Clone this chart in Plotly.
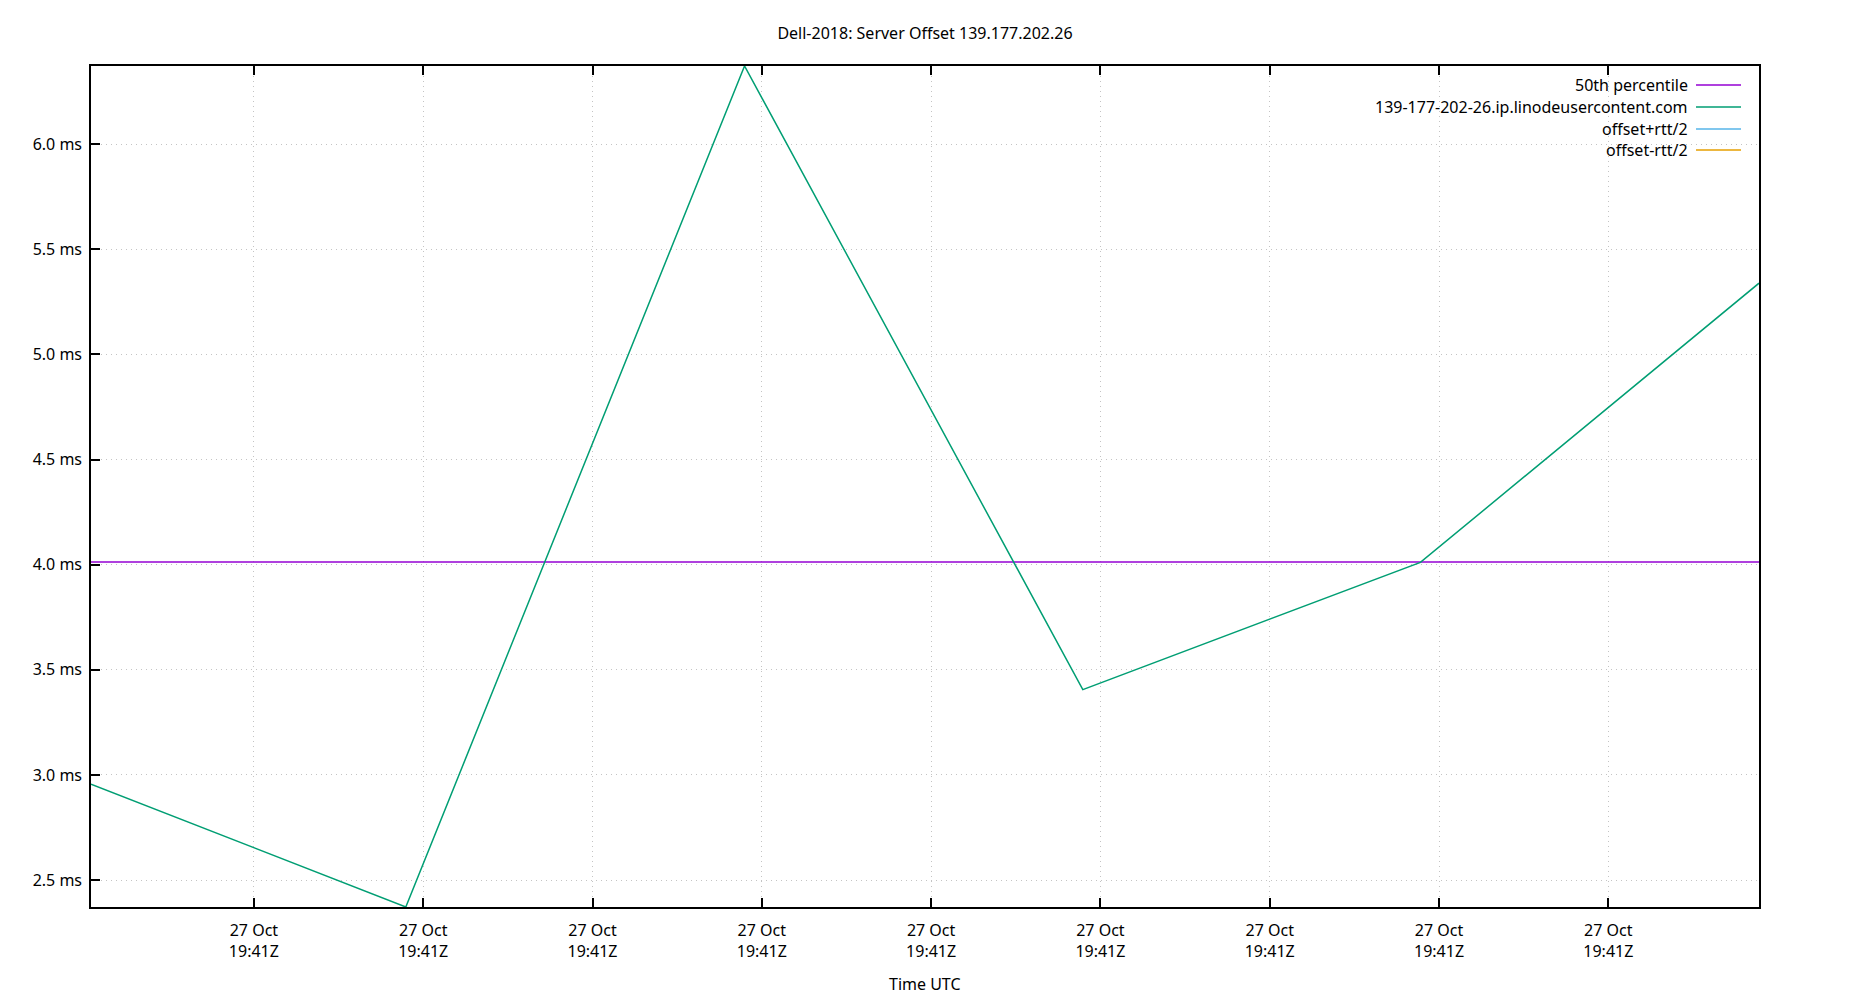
import plotly.graph_objects as go

# ---- data ----
times = [
    "2018-10-27 19:41:00.189",
    "2018-10-27 19:41:09.486",
    "2018-10-27 19:41:19.490",
    "2018-10-27 19:41:29.480",
    "2018-10-27 19:41:39.450",
    "2018-10-27 19:41:49.450",
]
offset_ms = [2.956, 2.372, 6.372, 3.406, 4.011, 5.339]
percentile_50 = 4.013

x_tickvals = [
    "2018-10-27 19:41:05", "2018-10-27 19:41:10", "2018-10-27 19:41:15",
    "2018-10-27 19:41:20", "2018-10-27 19:41:25", "2018-10-27 19:41:30",
    "2018-10-27 19:41:35", "2018-10-27 19:41:40", "2018-10-27 19:41:45",
]
x_ticktext = ["27 Oct<br>19:41Z"] * len(x_tickvals)
y_tickvals = [2.5, 3.0, 3.5, 4.0, 4.5, 5.0, 5.5, 6.0]

legend_names = ["50th percentile", "139-177-202-26.ip.linodeusercontent.com",
                "offset+rtt/2", "offset-rtt/2"]
legend_colors = ["#9400d3", "#009e73", "#56b4e9", "#e69f00"]

title_text = "Dell-2018: Server Offset 139.177.202.26"
x_title = "Time UTC"

FONT = "Noto Sans"
OFF = 8  # page body margin
W, H = 1850, 1000
L, R, T, B = 91 - OFF, 1759 - OFF, 66 - OFF, 907 - OFF

fig = go.Figure()

fig.add_trace(go.Scatter(
    x=[times[0], times[-1]], y=[percentile_50, percentile_50],
    mode="lines", line=dict(color=legend_colors[0], width=1.5),
    name=legend_names[0], showlegend=False, hoverinfo="skip"))
fig.add_trace(go.Scatter(
    x=times, y=offset_ms, mode="lines",
    line=dict(color=legend_colors[1], width=1.5),
    name=legend_names[1], showlegend=False))
fig.add_trace(go.Scatter(x=[None], y=[None], mode="lines",
                         line=dict(color=legend_colors[2], width=1.5),
                         name=legend_names[2], showlegend=False))
fig.add_trace(go.Scatter(x=[None], y=[None], mode="lines",
                         line=dict(color=legend_colors[3], width=1.5),
                         name=legend_names[3], showlegend=False))

def fx(p):  # screen px -> paper x
    return (p - OFF - L) / (R - L)

def fy(p):  # screen px -> paper y
    return (B - (p - OFF)) / (B - T)

shapes = []
annotations = []

# key background (opaque, hides grid)
shapes.append(dict(type="rect", xref="paper", yref="paper",
                   x0=fx(1337), x1=fx(1748), y0=fy(161), y1=1.0,
                   fillcolor="white", line=dict(width=0), layer="between"))

legend_y = [85, 107, 129, 150]
for name, color, yy in zip(legend_names, legend_colors, legend_y):
    annotations.append(dict(xref="paper", yref="paper",
                            x=fx(1690), y=fy(yy),
                            xanchor="right", yanchor="middle",
                            text=name, showarrow=False,
                            font=dict(family=FONT, size=16, color="black")))
    shapes.append(dict(type="line", xref="paper", yref="paper",
                       x0=fx(1696), x1=fx(1741), y0=fy(yy), y1=fy(yy),
                       line=dict(color=color, width=1.5), layer="above"))

annotations.append(dict(xref="paper", yref="paper", x=0.5, y=fy(984),
                        xanchor="center", yanchor="middle", text=x_title,
                        showarrow=False,
                        font=dict(family=FONT, size=16, color="black")))

GRID = dict(showgrid=True, gridcolor="#c4c4c4", griddash="1px,4px", gridwidth=1)

fig.update_layout(
    width=W, height=H,
    margin=dict(l=L, r=W - R, t=T, b=H - B, pad=0),
    paper_bgcolor="white", plot_bgcolor="white",
    font=dict(family=FONT, size=16, color="black"),
    title=dict(text=title_text, x=(L + R) / 2 / W, xanchor="center",
               y=1 - (33 - OFF) / H, yanchor="middle",
               font=dict(family=FONT, size=16, color="black")),
    showlegend=False,
    shapes=shapes,
    annotations=annotations,
    xaxis=dict(
        type="date",
        range=[times[0], times[-1]],
        tickmode="array", tickvals=x_tickvals, ticktext=x_ticktext,
        ticks="inside", ticklen=9, tickwidth=1.5, tickcolor="black",
        showline=True, linecolor="black", linewidth=1.5, mirror="allticks",
        zeroline=False, ticklabelstandoff=8,
        tickfont=dict(family=FONT, size=16, color="black"),
        **GRID,
    ),
    yaxis=dict(
        range=[2.372, 6.372],
        tickmode="array", tickvals=y_tickvals,
        ticktext=[f"{v:.1f} ms" for v in y_tickvals],
        ticks="inside", ticklen=9, tickwidth=1.5, tickcolor="black",
        showline=True, linecolor="black", linewidth=1.5, mirror=True,
        zeroline=False, ticklabelstandoff=4,
        tickfont=dict(family=FONT, size=16, color="black"),
        **GRID,
    ),
)

fig.write_html("out.html")
